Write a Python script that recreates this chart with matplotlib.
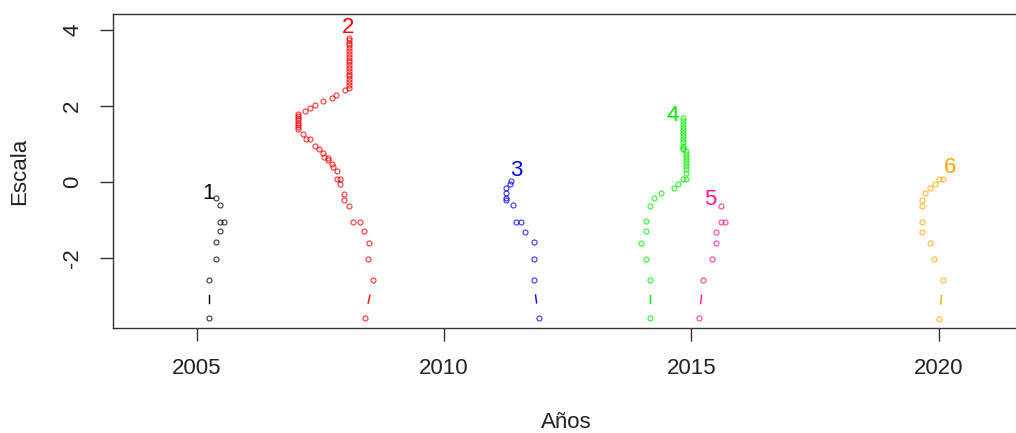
import matplotlib
matplotlib.use("Agg")
import matplotlib.pyplot as plt
import numpy as np

plt.rcParams["font.family"] = ["Liberation Sans", "DejaVu Sans"]
plt.rcParams["axes.unicode_minus"] = False

# item positions (year, scale value), ordered from the lowest point upward
item1_x = [2005.26, 2005.26, 2005.39, 2005.39, 2005.47, 2005.47, 2005.55, 2005.48, 2005.39]
item1_y = [-3.57, -2.58, -2.03, -1.58, -1.29, -1.04, -1.04, -0.61, -0.41]

item2_x = [2008.40, 2008.57, 2008.47, 2008.48, 2008.39, 2008.30, 2008.16, 2008.08,
           2007.98, 2007.98, 2007.90, 2007.90, 2007.83, 2007.83, 2007.75, 2007.73,
           2007.66, 2007.65, 2007.57, 2007.56, 2007.47, 2007.39, 2007.30, 2007.22,
           2007.14,
           2007.05, 2007.05, 2007.05, 2007.05, 2007.05, 2007.05, 2007.05, 2007.05,
           2007.20, 2007.30, 2007.39, 2007.56, 2007.74, 2007.81, 2007.99,
           2008.08, 2008.08, 2008.08, 2008.08, 2008.08, 2008.08, 2008.08, 2008.08,
           2008.08, 2008.08, 2008.08, 2008.08, 2008.08, 2008.08, 2008.08, 2008.08,
           2008.08, 2008.08, 2008.08]
item2_y = [-3.57, -2.59, -2.03, -1.60, -1.29, -1.04, -1.04, -0.63,
           -0.46, -0.31, -0.04, 0.07, 0.07, 0.29, 0.39, 0.48,
           0.58, 0.64, 0.67, 0.77, 0.88, 0.95, 1.14, 1.14,
           1.27,
           1.39, 1.44, 1.50, 1.56, 1.62, 1.68, 1.74, 1.80,
           1.87, 1.96, 2.02, 2.13, 2.20, 2.28, 2.42,
           2.48, 2.55, 2.62, 2.70, 2.78, 2.85, 2.93, 3.00,
           3.08, 3.15, 3.22, 3.30, 3.37, 3.45, 3.52, 3.60,
           3.67, 3.74, 3.80]

item3_x = [2011.91, 2011.81, 2011.81, 2011.81, 2011.64, 2011.55, 2011.46, 2011.40,
           2011.25, 2011.25, 2011.25, 2011.25, 2011.33, 2011.36]
item3_y = [-3.57, -2.58, -2.03, -1.58, -1.31, -1.04, -1.04, -0.61,
           -0.48, -0.41, -0.28, -0.17, -0.06, 0.03]

item4_x = [2014.16, 2014.16, 2014.08, 2013.98, 2014.08, 2014.08, 2014.16, 2014.25,
           2014.39, 2014.64, 2014.73, 2014.82, 2014.90,
           2014.90, 2014.90, 2014.90, 2014.90, 2014.90, 2014.90, 2014.90, 2014.90,
           2014.82, 2014.82, 2014.82, 2014.82, 2014.82, 2014.82, 2014.82, 2014.82,
           2014.82, 2014.82, 2014.82, 2014.82]
item4_y = [-3.59, -2.59, -2.03, -1.60, -1.29, -1.03, -0.63, -0.43,
           -0.30, -0.17, -0.04, 0.07, 0.07,
           0.25, 0.34, 0.42, 0.50, 0.58, 0.66, 0.74, 0.82,
           0.86, 0.90, 0.96, 1.04, 1.12, 1.20, 1.28, 1.36,
           1.44, 1.52, 1.60, 1.68]

item5_x = [2015.15, 2015.24, 2015.42, 2015.49, 2015.49, 2015.59, 2015.67, 2015.59]
item5_y = [-3.59, -2.59, -2.03, -1.60, -1.31, -1.04, -1.04, -0.63]

item6_x = [2020.01, 2020.08, 2019.90, 2019.82, 2019.65, 2019.65, 2019.65, 2019.65,
           2019.73, 2019.83, 2019.92, 2020.01, 2020.08]
item6_y = [-3.60, -2.59, -2.03, -1.60, -1.31, -1.04, -0.63, -0.46,
           -0.30, -0.15, -0.04, 0.07, 0.07]

labels = ["1", "2", "3", "4", "5", "6"]
label_x = [2005.23, 2008.07, 2011.46, 2014.62, 2015.39, 2020.23]
label_y = [-0.29, 4.06, 0.29, 1.74, -0.47, 0.39]
colors = ["#000000", "#FF0000", "#0000FF", "#00EE00", "#FF1493", "#FFA500"]

items = [(item1_x, item1_y), (item2_x, item2_y), (item3_x, item3_y),
         (item4_x, item4_y), (item5_x, item5_y), (item6_x, item6_y)]

W, H = 1016, 433
fig = plt.figure(figsize=(W / 100, H / 100), dpi=100)
ax = fig.add_axes([113 / W, 1 - 328 / H, (1020 - 113) / W, (328 - 14) / H])

# R's usr coordinates
ax.set_xlim(2003.31, 2021.64)
ax.set_ylim(-3.84, 4.42)


def draw_type_b(ax, xs, ys, color, gap=15):
    # R-style type="b": lines between points, kept clear of the points
    pts = ax.transData.transform(np.column_stack([xs, ys]))
    inv = ax.transData.inverted()
    for p0, p1 in zip(pts[:-1], pts[1:]):
        d = p1 - p0
        dist = np.hypot(*d)
        if dist <= 2 * gap:
            continue
        u = d / dist
        a = inv.transform(p0 + u * gap)
        b = inv.transform(p1 - u * gap)
        ax.plot([a[0], b[0]], [a[1], b[1]], color=color, lw=1.0)


for (xs, ys), c in zip(items, colors):
    ax.plot(xs, ys, linestyle="none", marker="o", markersize=3.6,
            markerfacecolor="none", markeredgecolor=c, markeredgewidth=0.85,
            alpha=0.75)
    draw_type_b(ax, xs, ys, c)

for t, x, y, c in zip(labels, label_x, label_y, colors):
    ax.text(x, y, t, color=c, fontsize=16, ha="center", va="center")

ax.set_xticks([2005, 2010, 2015, 2020])
ax.set_yticks([-2, 0, 2, 4])
ax.tick_params(axis="both", direction="out", length=9.5, width=1.0,
               labelsize=16, pad=12, color="#333333", labelcolor="#222222")
for lbl in ax.get_yticklabels():
    lbl.set_rotation(90)
    lbl.set_va("center")
for s in ax.spines.values():
    s.set_linewidth(1.0)
    s.set_color("#333333")

fig.text(20 / W, 1 - 171 / H, "Escala", rotation=90, ha="center", va="center",
         fontsize=16, color="#222222")
fig.text(566 / W, 1 - 423 / H, "Años", ha="center", va="center",
         fontsize=16, color="#222222")

fig.savefig("out.png", dpi=100)
